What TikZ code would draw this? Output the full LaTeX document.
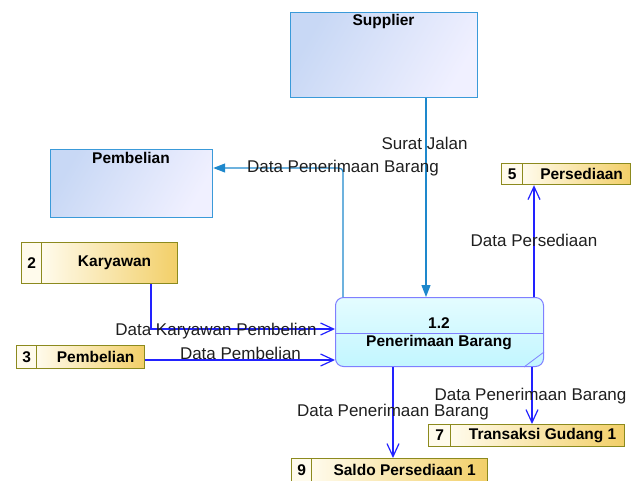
\documentclass[tikz,border=0pt]{standalone}
\usepackage{fontspec}
\setmainfont{Liberation Sans}
\usetikzlibrary{arrows.meta}

\definecolor{entA}{HTML}{C8D8F5}
\definecolor{entB}{HTML}{F0F0FF}
\definecolor{entLine}{HTML}{3A9AD9}
\definecolor{stA}{HTML}{FFFBEC}
\definecolor{stB}{HTML}{F2CF68}
\definecolor{stLine}{HTML}{8C8A1E}
\definecolor{prA}{HTML}{E4FCFF}
\definecolor{prB}{HTML}{C2F6FF}
\definecolor{prLine}{HTML}{7F7FFF}
\definecolor{flowTeal}{HTML}{1E88CC}
\definecolor{flowBlue}{HTML}{2222FF}

\tikzset{
  entity/.style={draw=entLine, line width=1.2pt, left color=entA, right color=entB,
    shading angle=60, rectangle, inner sep=0pt},
  storebox/.style={draw=stLine, line width=1.2pt, left color=stA, right color=stB,
    rectangle, inner sep=0pt},
  storenumbox/.style={draw=stLine, line width=1.2pt, fill=stA, rectangle, inner sep=0pt},
  process/.style={draw=prLine, line width=1pt, top color=prA, bottom color=prB,
    rounded corners=8pt, rectangle, inner sep=0pt},
  boldtxt/.style={font=\fontsize{15.5}{18}\selectfont\bfseries, inner sep=0pt},
  flowlabel/.style={font=\fontsize{17}{20}\selectfont, inner sep=0pt, text=black!88},
  tealflow/.style={draw=flowTeal, line width=1.2pt, -{Triangle[length=12pt, width=9pt]}},
  blueflow/.style={draw=flowBlue, line width=1.2pt, -{Straight Barb[length=13pt, width=12pt, line width=1.2pt]}}
}

% data store: name, left, top, right, bottom, divider x, number, label
\newcommand\datastore[8]{%
  \node[storebox, anchor=north west, minimum width={#4-#6}, minimum height={#5-#3}] (#1) at (#6,#3) {};
  \node[storenumbox, anchor=north west, minimum width={#6-#2}, minimum height={#5-#3}] (#1-box) at (#2,#3) {};
  \node[boldtxt] (#1-num) at (#1-box.center) {#7};
  \node[boldtxt, xshift=5pt] (#1-txt) at (#1.center) {#8};
}

\begin{document}
\begin{tikzpicture}[x=1pt, y=-1pt]
\useasboundingbox (0,0) rectangle (631,480);

% external entities
\node[entity, anchor=north west, minimum width=187, minimum height=85] (sup) at (290,12) {};
\node[boldtxt] (sup-t) at (383.5,21) {Supplier};
\node[entity, anchor=north west, minimum width=162, minimum height=68] (beli) at (50,149) {};
\node[boldtxt] (beli-t) at (131,158) {Pembelian};

% data stores
\datastore{st2}{21}{242}{177}{283}{41}{2}{Karyawan}
\datastore{st3}{16}{345}{144}{368}{36}{3}{Pembelian}
\datastore{st5}{501}{163}{630}{184}{522}{5}{Persediaan}
\datastore{st7}{428}{424}{624}{446}{450}{7}{Transaksi Gudang 1}
\datastore{st9}{291}{458}{487}{481}{311}{9}{Saldo Persediaan 1}

% process
\node[process, anchor=north west, minimum width=208, minimum height=69] (pr) at (335,297) {};
\draw[prLine, line width=1pt] (pr.west |- 0,333) -- (pr.east |- 0,333);
\draw[prLine, line width=0.8pt] ([xshift=-20pt]pr.south east) -- ([yshift=15pt]pr.south east);
\node[boldtxt] (pr-id) at (439,323) {1.2};
\node[boldtxt] (pr-name) at (439,343) {Penerimaan Barang};

% flows
\draw[tealflow] (426,0 |- sup.south) -- (426,0 |- pr.north);
\draw[tealflow, rounded corners=4pt] (343,0 |- pr.north) -- (343,168) -- (beli.east |- 0,168);
\draw[blueflow] (151,0 |- st2.south) -- (151,329) -- (pr.west |- 0,329);
\draw[blueflow] (st3.east |- 0,360) -- (pr.west |- 0,360);
\draw[blueflow] (534,0 |- pr.north) -- (534,0 |- st5.south);
\draw[blueflow] (532,0 |- pr.south) -- (532,0 |- st7.north);
\draw[blueflow] (393,0 |- pr.south) -- (393,0 |- st9.north);

% flow labels
\node[flowlabel] (l1) at (424.5,143) {Surat Jalan};
\node[flowlabel] (l2) at (343,168) {Data Penerimaan Barang};
\node[flowlabel] (l3) at (534,240) {Data Persediaan};
\node[flowlabel] (l4) at (216,331) {Data Karyawan Pembelian};
\node[flowlabel] (l5) at (240.5,353) {Data Pembelian};
\node[flowlabel] (l6) at (530.5,396) {Data Penerimaan Barang};
\node[flowlabel] (l7) at (393,412) {Data Penerimaan Barang};
\end{tikzpicture}
\end{document}
